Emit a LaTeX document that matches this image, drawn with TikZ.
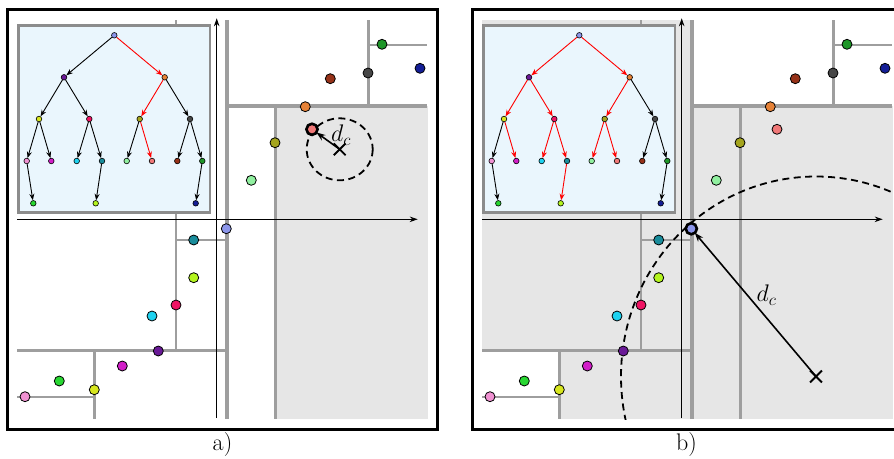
\RequirePackage{fix-cm}
\documentclass[tikz,border=0pt]{standalone}
\usetikzlibrary{shapes.misc, arrows.meta}

\definecolor{cPeri}{RGB}{140,150,235}
\definecolor{cPurple}{RGB}{105,25,150}
\definecolor{cOrange}{RGB}{230,130,55}
\definecolor{cYellow}{RGB}{215,230,30}
\definecolor{cCrimson}{RGB}{240,20,100}
\definecolor{cOlive}{RGB}{165,165,30}
\definecolor{cDark}{RGB}{70,70,70}
\definecolor{cPink}{RGB}{240,145,210}
\definecolor{cMagenta}{RGB}{210,30,200}
\definecolor{cCyan}{RGB}{30,210,240}
\definecolor{cTeal}{RGB}{25,140,155}
\definecolor{cLgreen}{RGB}{145,240,160}
\definecolor{cSalmon}{RGB}{240,120,120}
\definecolor{cBrown}{RGB}{150,50,25}
\definecolor{cGreen}{RGB}{30,150,40}
\definecolor{cBgreen}{RGB}{40,215,50}
\definecolor{cLime}{RGB}{180,245,30}
\definecolor{cNavy}{RGB}{20,30,150}
\definecolor{cShade}{RGB}{230,230,230}
\definecolor{cInset}{RGB}{234,246,253}

\tikzset{
  kdsplit/.style={draw=black!38},
  kdpt/.style={circle, draw, line width=0.8pt, inner sep=0pt, minimum size=10},
  treenode/.style={circle, draw, line width=0.6pt, inner sep=0pt, minimum size=5.6},
  tedge/.style={-{Stealth[length=6.5pt, width=5pt]}, line width=0.9pt},
  axis/.style={-{Stealth[length=8pt, width=5.5pt]}, line width=0.8pt},
  hl/.style={line width=2.6pt},
  qmark/.style={cross out, draw, line width=1.8pt, inner sep=0pt, minimum size=10},
  qrange/.style={line width=1.8pt, dash pattern=on 7pt off 4.5pt},
  bigfont/.style={font=\fontsize{24}{29}\selectfont}
}

% splitting lines of the kd-tree
\newcommand{\kdsplits}{
  \draw[kdsplit, line width=4pt] (227.3,20) -- (227.3,419);
  \draw[kdsplit, line width=3.2pt] (227.3,106) -- (427,106);
  \draw[kdsplit, line width=3.2pt] (17,350.7) -- (227.3,350.7);
  \draw[kdsplit, line width=2.6pt] (275.7,106) -- (275.7,419);
  \draw[kdsplit, line width=2.6pt] (368.3,20) -- (368.3,106);
  \draw[kdsplit, line width=2.6pt] (94.3,350.7) -- (94.3,419);
  \draw[kdsplit, line width=2.6pt] (176,20) -- (176,350.7);
  \draw[kdsplit, line width=2.2pt] (368.3,44.7) -- (427,44.7);
  \draw[kdsplit, line width=2.2pt] (17,397.3) -- (94.3,397.3);
  \draw[kdsplit, line width=2.2pt] (176,240) -- (227.3,240);
  % axes
  \draw[axis] (17,219.3) -- (417.7,219.3);
  \draw[axis] (216.7,418) -- (216.7,18.3);
}

% data points
\newcommand{\kdpoints}[1]{
  \foreach \n/\c/\x/\y in {r/cPeri/226.3/228.7, r0/cPurple/158.3/351,
      r1/cOrange/305.3/106.7, r00/cYellow/94.3/389.7, r01/cCrimson/176/305,
      r10/cOlive/275/142.7, r11/cDark/368/73, r000/cPink/25/396.7,
      r001/cMagenta/122.3/366, r010/cCyan/152/316, r011/cTeal/193.7/240,
      r100/cLgreen/251.3/180.3, r101/cSalmon/312/129.3, r110/cBrown/330.3/78.7,
      r111/cGreen/382/44.3, r0000/cBgreen/59.3/381, r0110/cLime/193.7/277.7,
      r1110/cNavy/420/68.3}
    \node[kdpt, fill=\c] (#1-p\n) at (\x,\y) {};
}

% tree inset
\newcommand{\kdtree}[1]{
  \draw[fill=cInset, draw=black!45, line width=2.5pt] (18.3,25.5) rectangle (210,212.5);
  \foreach \n/\c/\x/\y in {r/cPeri/114.3/35.3, r0/cPurple/64/77.3,
      r1/cOrange/164.7/77.3, r00/cYellow/39/119, r01/cCrimson/89.3/119,
      r10/cOlive/139.7/119, r11/cDark/190/119, r000/cPink/26.7/161,
      r001/cMagenta/51.3/161, r010/cCyan/76.7/161, r011/cTeal/102/161,
      r100/cLgreen/126.7/161, r101/cSalmon/152/161, r110/cBrown/177.3/161,
      r111/cGreen/202.3/161, r0000/cBgreen/33.3/203.3, r0110/cLime/95.7/203.3,
      r1110/cNavy/195.7/203.3}
    \node[treenode, fill=\c] (#1-t\n) at (\x,\y) {};
}

\begin{document}
\begin{tikzpicture}[x=1pt, y=-1pt, >=stealth]
  \useasboundingbox (0,0) rectangle (894,458);

  % Panel a
  \begin{scope}
    \fill[cShade] (275.7,106) rectangle (428,419);
    \kdsplits
    \kdtree{a}
    \foreach \u/\v/\c in {r/r0/black, r/r1/red, r0/r00/black, r0/r01/black,
        r1/r10/red, r1/r11/black, r00/r000/black, r00/r001/black,
        r01/r010/black, r01/r011/black, r10/r100/black, r10/r101/red,
        r11/r110/black, r11/r111/black, r000/r0000/black, r011/r0110/black,
        r111/r1110/black}
      \draw[tedge, \c] (a-t\u) -- (a-t\v);
    \node[qmark] (a-q) at (339.7,149.3) {};
    \draw[qrange] (a-q.center) ellipse [x radius=33, y radius=31];
    \kdpoints{a}
    \draw[hl] (a-pr101.center) circle (5.6);
    \draw[-{Stealth[length=9pt, width=6.5pt]}, line width=1.6pt] (a-q.center) -- (a-pr101);
    \node[bigfont, anchor=base] (a-dc) at (341,141.7) {$d_c$};
    \draw[line width=3pt] (7.5,9.3) rectangle (437.7,429);
    \node[bigfont] (a-cap) at (222.5,445) {a)};
  \end{scope}

  % Panel b
  \begin{scope}[shift={(465,0)}]
    \fill[cShade] (17,20) rectangle (428,419);
    \fill[white] (227.3,20) rectangle (428,106);
    \fill[white] (17,350.7) rectangle (94.3,419);
    \kdsplits
    \kdtree{b}
    \foreach \u/\v/\c in {r/r0/red, r/r1/red, r0/r00/red, r0/r01/red,
        r1/r10/red, r1/r11/black, r00/r000/black, r00/r001/red,
        r01/r010/red, r01/r011/red, r10/r100/red, r10/r101/red,
        r11/r110/black, r11/r111/black, r000/r0000/black, r011/r0110/red,
        r111/r1110/black}
      \draw[tedge, \c] (b-t\u) -- (b-t\v);
    \node[qmark] (b-q) at (351,376.5) {};
    \begin{scope}
      \clip (17,20) rectangle (428,419);
      \draw[qrange] (b-q.center) ellipse [x radius=195, y radius=200];
    \end{scope}
    \kdpoints{b}
    \draw[hl] (b-pr.center) circle (5.6);
    \draw[-{Stealth[length=9pt, width=6.5pt]}, line width=1.6pt] (b-q.center) -- (b-pr);
    \node[bigfont, anchor=base] (b-dc) at (301.5,301.5) {$d_c$};
    \draw[line width=3pt] (7.5,9.3) rectangle (437.7,429);
    \node[bigfont] (b-cap) at (221.5,445) {b)};
  \end{scope}
\end{tikzpicture}
\end{document}
